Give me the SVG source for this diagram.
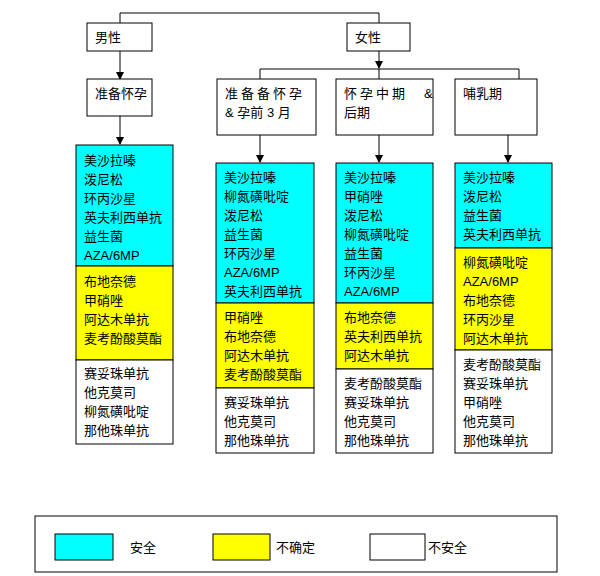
<svg xmlns="http://www.w3.org/2000/svg" width="600" height="576" viewBox="0 0 600 576">
<defs>
<style>
text{font-family:"Liberation Sans","Noto Sans CJK SC",sans-serif;font-size:13px;fill:#000}
.b{fill:#fff;stroke:#000;stroke-width:1}
.c{fill:#00ffff;stroke:#000;stroke-width:1}
.y{fill:#ffff00;stroke:#000;stroke-width:1}
.l{fill:none;stroke:#000;stroke-width:1}
</style>
<marker id="a" markerWidth="8" markerHeight="8" refX="7" refY="4" orient="auto" markerUnits="userSpaceOnUse"><path d="M0,0L8,4L0,8z" fill="#000"/></marker>
</defs>
<rect width="600" height="576" fill="#fff"/>
<g id="connectors">
<path class="l" d="M120,23V13H379V23"/>
<path class="l" d="M120,51V79" marker-end="url(#a)"/>
<path class="l" d="M120,116V144" marker-end="url(#a)"/>
<path class="l" d="M379,51V68" marker-end="url(#a)"/>
<path class="l" d="M260,79V69H519V79"/>
<path class="l" d="M379,69V79"/>
<path class="l" d="M260,135V162" marker-end="url(#a)"/>
<path class="l" d="M379,135V162" marker-end="url(#a)"/>
<path class="l" d="M508,135V162" marker-end="url(#a)"/>
</g>
<g id="male"><rect class="b" x="87" y="23" width="65" height="28"/><text x="95" y="42">男性</text></g>
<g id="female"><rect class="b" x="347" y="23" width="63" height="28"/><text x="355" y="42">女性</text></g>
<g id="m-prep"><rect class="b" x="87" y="79" width="65" height="37"/><text x="95" y="98">准备怀孕</text></g>
<g id="f-prep"><rect class="b" x="217" y="79" width="99" height="56"/><text x="225" y="98" letter-spacing="3">准备备怀孕</text><text x="225" y="117">&amp; 孕前 3 月</text></g>
<g id="f-mid"><rect class="b" x="336" y="79" width="97" height="56"/><text x="344" y="98" letter-spacing="3">怀孕中期　&amp;</text><text x="344" y="117">后期</text></g>
<g id="f-lact"><rect class="b" x="455" y="79" width="82" height="56"/><text x="463" y="98">哺乳期</text></g>

<g id="col1">
<rect class="c" x="76" y="145" width="97" height="121"/><rect class="y" x="76" y="266" width="97" height="94"/><rect class="b" x="76" y="360" width="97" height="84"/>
<text x="84" y="165">美沙拉嗪</text><text x="84" y="184">泼尼松</text><text x="84" y="203">环丙沙星</text><text x="84" y="222">英夫利西单抗</text><text x="84" y="241">益生菌</text><text x="84" y="260">AZA/6MP</text>
<text x="84" y="286">布地奈德</text><text x="84" y="305">甲硝唑</text><text x="84" y="324">阿达木单抗</text><text x="84" y="343">麦考酚酸莫酯</text>
<text x="84" y="378">赛妥珠单抗</text><text x="84" y="397">他克莫司</text><text x="84" y="416">柳氮磺吡啶</text><text x="84" y="435">那他珠单抗</text>
</g>
<g id="col2">
<rect class="c" x="216" y="163" width="98" height="140"/><rect class="y" x="216" y="303" width="98" height="85"/><rect class="b" x="216" y="388" width="98" height="65"/>
<text x="224" y="182">美沙拉嗪</text><text x="224" y="201">柳氮磺吡啶</text><text x="224" y="220">泼尼松</text><text x="224" y="239">益生菌</text><text x="224" y="258">环丙沙星</text><text x="224" y="277">AZA/6MP</text><text x="224" y="296">英夫利西单抗</text>
<text x="224" y="322">甲硝唑</text><text x="224" y="341">布地奈德</text><text x="224" y="360">阿达木单抗</text><text x="224" y="379">麦考酚酸莫酯</text>
<text x="224" y="407">赛妥珠单抗</text><text x="224" y="426">他克莫司</text><text x="224" y="445">那他珠单抗</text>
</g>
<g id="col3">
<rect class="c" x="336" y="163" width="97" height="140"/><rect class="y" x="336" y="303" width="97" height="66"/><rect class="b" x="336" y="369" width="97" height="84"/>
<text x="344" y="182">美沙拉嗪</text><text x="344" y="201">甲硝唑</text><text x="344" y="220">泼尼松</text><text x="344" y="239">柳氮磺吡啶</text><text x="344" y="258">益生菌</text><text x="344" y="277">环丙沙星</text><text x="344" y="296">AZA/6MP</text>
<text x="344" y="322">布地奈德</text><text x="344" y="341">英夫利西单抗</text><text x="344" y="360">阿达木单抗</text>
<text x="344" y="388">麦考酚酸莫酯</text><text x="344" y="407">赛妥珠单抗</text><text x="344" y="426">他克莫司</text><text x="344" y="445">那他珠单抗</text>
</g>
<g id="col4">
<rect class="c" x="455" y="163" width="97" height="85"/><rect class="y" x="455" y="248" width="97" height="102"/><rect class="b" x="455" y="350" width="97" height="103"/>
<text x="463" y="182">美沙拉嗪</text><text x="463" y="201">泼尼松</text><text x="463" y="220">益生菌</text><text x="463" y="239">英夫利西单抗</text>
<text x="463" y="267">柳氮磺吡啶</text><text x="463" y="286">AZA/6MP</text><text x="463" y="305">布地奈德</text><text x="463" y="324">环丙沙星</text><text x="463" y="343">阿达木单抗</text>
<text x="463" y="369">麦考酚酸莫酯</text><text x="463" y="388">赛妥珠单抗</text><text x="463" y="407">甲硝唑</text><text x="463" y="426">他克莫司</text><text x="463" y="445">那他珠单抗</text>
</g>
<g id="legend">
<rect class="b" x="35" y="516" width="522" height="56"/>
<rect class="c" x="55" y="534" width="58" height="26"/><text x="130" y="552">安全</text>
<rect class="y" x="213" y="534" width="57" height="26"/><text x="276" y="552">不确定</text>
<rect class="b" x="370" y="534" width="55" height="26"/><text x="428" y="552">不安全</text>
</g>
</svg>
